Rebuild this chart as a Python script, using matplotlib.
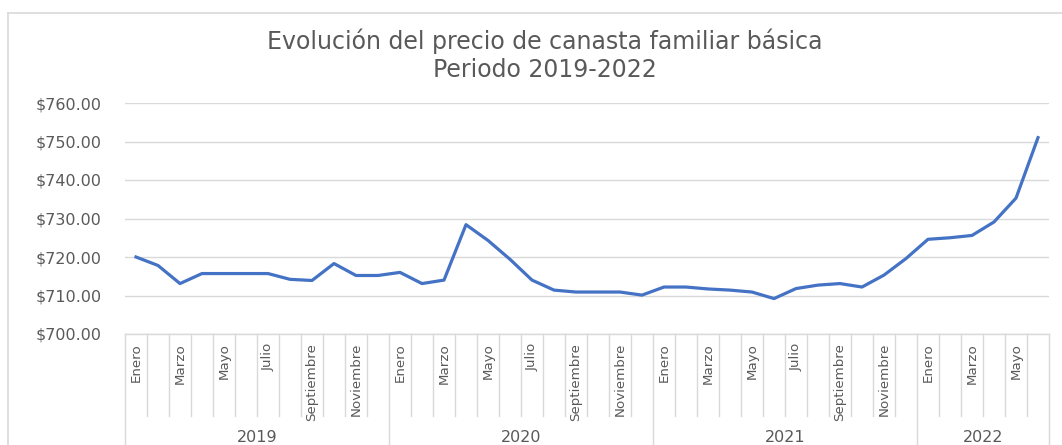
import matplotlib.pyplot as plt
import numpy as np
from matplotlib.lines import Line2D
from matplotlib.transforms import blended_transform_factory

# Data
years = ['2019', '2020', '2021', '2022']
months_per_year = [12, 12, 12, 6]
month_names = ['Enero', 'Febrero', 'Marzo', 'Abril', 'Mayo', 'Junio',
               'Julio', 'Agosto', 'Septiembre', 'Octubre', 'Noviembre', 'Diciembre']
precio = [720.0, 717.8, 713.1, 715.7, 715.7, 715.7, 715.7, 714.2, 713.9, 718.3, 715.2, 715.2,
          716.0, 713.1, 714.0, 728.4, 724.3, 719.4, 714.0, 711.4, 710.9, 710.9, 710.9, 710.1,
          712.2, 712.2, 711.7, 711.4, 710.9, 709.2, 711.8, 712.7, 713.1, 712.2, 715.3, 719.6,
          724.6, 725.0, 725.6, 729.1, 735.3, 751.0]
yticks = [700, 710, 720, 730, 740, 750, 760]

W, H = 1062, 445
gray_txt = '#595959'
gray_line = '#d9d9d9'

fig = plt.figure(figsize=(W / 100, H / 100), dpi=100)
ax = fig.add_axes([125 / W, 1 - 334 / H, (1049 - 125) / W, (334 - 103) / H])

x = np.arange(len(precio))
ax.plot(x, precio, color='#4472C4', lw=2.3, solid_joinstyle='round', clip_on=False)

ax.set_xlim(-0.5, len(precio) - 0.5)
ax.set_ylim(700, 760)
ax.set_yticks(yticks)
ax.set_yticklabels(['${:.2f}'.format(v) for v in yticks])
ax.tick_params(axis='y', length=0, pad=17, labelsize=11.5, labelcolor=gray_txt)
ax.set_xticks([])
ax.grid(axis='y', color=gray_line, lw=1)
ax.set_axisbelow(True)
for s in ['left', 'right', 'top']:
    ax.spines[s].set_visible(False)
ax.spines['bottom'].set_color(gray_line)
ax.spines['bottom'].set_linewidth(1)

# multi-level category axis
tr = blended_transform_factory(ax.transData, ax.transAxes)
axh = 334 - 103
y_month = -(416 - 334) / axh
y_year = -(460 - 334) / axh
year_starts = np.concatenate([[0], np.cumsum(months_per_year)])
for b in range(len(precio) + 1):
    y_end = y_year if b in year_starts else y_month
    ax.add_line(Line2D([b - 0.5, b - 0.5], [0, y_end], transform=tr,
                       color=gray_line, lw=1, clip_on=False))

for i in range(len(precio)):
    m = i % 12
    if m % 2 == 0:
        ax.text(i, -(343 - 334) / axh, month_names[m], transform=tr, rotation=90,
                ha='center', va='top', fontsize=9.6, color=gray_txt)

for k, yr in enumerate(years):
    xc = (year_starts[k] + year_starts[k + 1]) / 2 - 0.5
    ax.text(xc, -(437 - 334) / axh, yr, transform=tr, ha='center', va='center',
            fontsize=11.5, color=gray_txt)

# chart border (top and left visible)
fig.add_artist(Line2D([8 / W, 1], [1 - 13 / H, 1 - 13 / H], transform=fig.transFigure,
                      color=gray_line, lw=1.2))
fig.add_artist(Line2D([8 / W, 8 / W], [0, 1 - 13 / H], transform=fig.transFigure,
                      color=gray_line, lw=1.2))

fig.text(545 / W, 1 - 41 / H, 'Evolución del precio de canasta familiar básica',
         ha='center', va='center', fontsize=17, color=gray_txt)
fig.text(545 / W, 1 - 70 / H, 'Periodo 2019-2022',
         ha='center', va='center', fontsize=17, color=gray_txt)

fig.savefig('out.png', dpi=100)
